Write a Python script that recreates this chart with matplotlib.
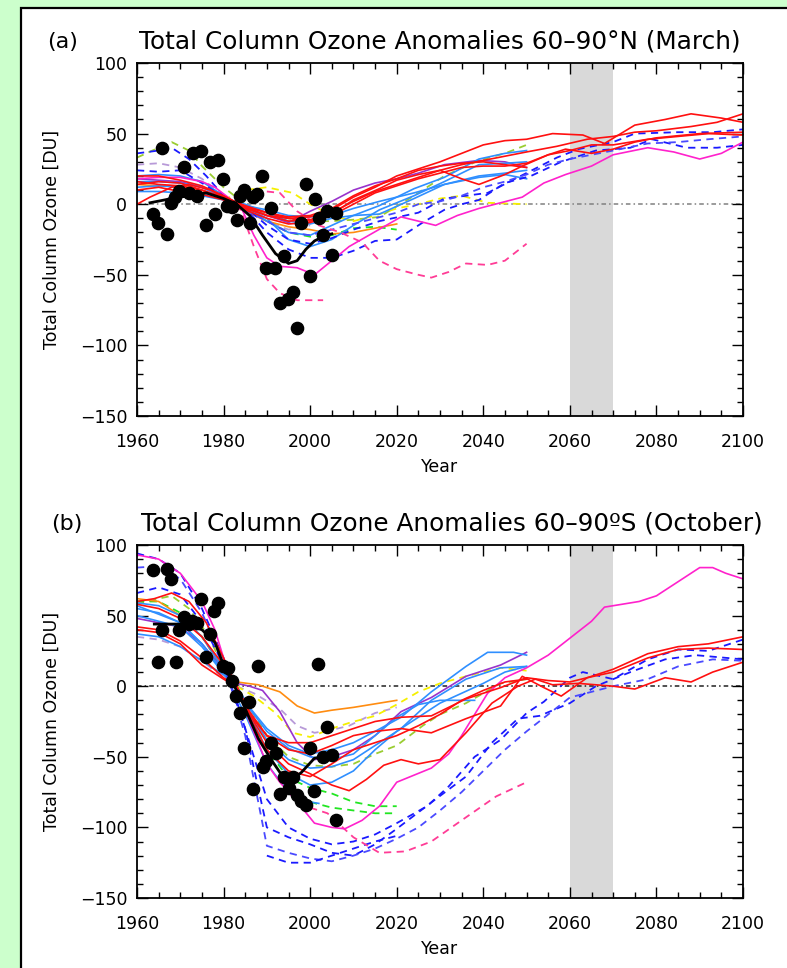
import matplotlib
matplotlib.use("Agg")
import matplotlib.pyplot as plt
from matplotlib.patches import Rectangle
from matplotlib.ticker import MultipleLocator

# ── Panel (a): 60-90N March, (year, anomaly DU) ───────────────────────────────
A_OBS_YEARS = [1963.8, 1964.9, 1965.7, 1966.9, 1967.9, 1968.8, 1969.8, 1970.9, 1971.9,
               1972.9, 1973.8, 1974.9, 1975.9, 1976.9, 1978.0, 1978.8, 1979.9, 1980.7,
               1981.9, 1983.0, 1983.8, 1984.7, 1986.1, 1986.7, 1987.8, 1988.9, 1989.7,
               1990.9, 1991.9, 1993.0, 1994.0, 1994.9, 1996.0, 1996.9, 1998.0, 1999.0,
               1999.9, 2001.1, 2002.1, 2003.0, 2003.9, 2005.1, 2006.0]
A_OBS_VALS = [-7, -13, 40, -21, 1, 5, 9, 26, 8, 36, 6, 38, -15, 30, -7, 31, 18, -1,
              -2, -11, 6, 10, -13, 5, 7, 20, -45, -3, -45, -70, -37, -67, -62, -88,
              -13, 14, -51, 4, -10, -22, -5, -36, -6]
A_OBS_FIT = [(1963, 1), (1968, 4), (1972, 6), (1976, 8), (1980, 4), (1983, 0), (1986, -8),
             (1989, -22), (1992, -35), (1995, -42), (1997, -40), (1999, -32), (2001, -26),
             (2003, -23), (2005, -21)]

A_RED1 = [(1960, 20), (1965, 20), (1970, 17), (1975, 13), (1980, 6), (1985, -2), (1990, -8),
          (1995, -10), (2000, -9), (2005, -4), (2010, 5), (2015, 12), (2020, 20), (2025, 25),
          (2030, 30), (2035, 36), (2040, 42), (2045, 45), (2050, 46), (2056, 50), (2063, 49),
          (2068, 43), (2075, 56), (2082, 60), (2088, 64), (2095, 61), (2100, 58)]
A_RED2 = [(1960, 14), (1965, 16), (1970, 15), (1975, 10), (1980, 4), (1985, -3), (1990, -8),
          (1995, -12), (2000, -11), (2005, -6), (2010, 2), (2015, 9), (2020, 14), (2025, 19),
          (2030, 24), (2035, 28), (2040, 31), (2045, 34), (2050, 37), (2057, 41), (2064, 46),
          (2070, 48), (2075, 51), (2080, 52), (2088, 55), (2094, 58), (2100, 64)]
A_RED3 = [(1960, 0), (1963, 5), (1968, 12), (1972, 14), (1977, 10), (1980, 5), (1985, -2),
          (1990, -6), (1995, -10), (2000, -12), (2005, -7), (2010, 3), (2016, 11), (2020, 17),
          (2025, 21), (2030, 24), (2035, 18), (2039, 14), (2045, 21), (2049, 27), (2055, 35),
          (2059, 39), (2065, 36), (2070, 39), (2075, 44), (2080, 47), (2090, 50), (2100, 51)]
A_RED4 = [(1960, 10), (1965, 12), (1970, 9), (1975, 7), (1980, 3), (1985, -4), (1990, -10),
          (1995, -14), (2000, -13), (2005, -8), (2010, 0), (2015, 8), (2020, 13), (2025, 18),
          (2030, 22), (2035, 26), (2040, 27), (2045, 27), (2050, 29), (2055, 35), (2060, 38),
          (2065, 42), (2070, 42), (2078, 46), (2085, 48), (2092, 50), (2100, 49)]
A_RED5 = [(1960, 16), (1965, 14), (1970, 13), (1975, 10), (1980, 5), (1985, -1), (1990, -6),
          (1995, -9), (2000, -8), (2005, -3), (2010, 6), (2015, 13), (2020, 18), (2025, 24),
          (2030, 27), (2035, 29), (2040, 30), (2045, 28), (2050, 26)]
A_MAG = [(1960, 18), (1965, 19), (1970, 19), (1975, 16), (1978, 12), (1981, 5), (1984, -2),
         (1987, -22), (1990, -38), (1993, -44), (1997, -45), (2001, -50), (2005, -40),
         (2009, -30), (2013, -23), (2017, -16), (2021, -9), (2025, -12), (2029, -15),
         (2034, -8), (2039, -3), (2044, 1), (2049, 5), (2054, 15), (2059, 21), (2065, 27),
         (2070, 35), (2078, 40), (2084, 37), (2090, 32), (2095, 36), (2100, 44)]
A_PINK1 = [(1980, 2), (1984, -4), (1987, -30), (1990, -53), (1993, -63), (1997, -68), (2003, -68)]
A_PINK2 = [(1990, 9), (1993, 8), (1997, -5), (2002, -15), (2007, -20), (2012, -27), (2016, -40),
           (2020, -46), (2025, -50), (2028, -52), (2032, -48), (2036, -42), (2041, -43),
           (2045, -40), (2050, -28)]
A_BLUE1 = [(1960, 36), (1965, 38), (1968, 40), (1972, 32), (1976, 20), (1980, 6), (1985, -3),
           (1990, -20), (1995, -32), (2000, -38), (2005, -38), (2010, -33), (2015, -26),
           (2020, -25), (2026, -13), (2031, -4), (2035, 0), (2039, 3), (2045, 15), (2051, 20),
           (2058, 30), (2066, 38), (2074, 40), (2079, 46), (2087, 40), (2094, 40), (2100, 42)]
A_BLUE2 = [(1960, 24), (1965, 23), (1970, 24), (1975, 15), (1980, 5), (1985, -2), (1990, -15),
           (1995, -25), (2000, -28), (2005, -24), (2010, -18), (2016, -12), (2025, -6),
           (2031, 4), (2041, 8), (2048, 19), (2057, 33), (2062, 39), (2070, 44), (2075, 50),
           (2085, 51), (2093, 51), (2100, 53)]
A_BLUE3 = [(1985, -4), (1990, -12), (1995, -20), (2000, -22), (2005, -18), (2010, -14),
           (2015, -10), (2020, -6), (2025, 0), (2030, 2), (2035, 6), (2040, 12), (2045, 16),
           (2050, 21), (2055, 28), (2060, 32), (2065, 35), (2070, 38), (2078, 43), (2085, 44),
           (2092, 46), (2100, 48)]
A_LB1 = [(1960, 20), (1965, 21), (1970, 20), (1975, 16), (1980, 6), (1985, -3), (1990, -12),
         (1995, -20), (2000, -22), (2005, -15), (2010, -8), (2016, -1), (2024, 11), (2031, 19),
         (2039, 32), (2045, 36), (2050, 38)]
A_LB2 = [(1960, 12), (1965, 13), (1970, 12), (1975, 8), (1980, 4), (1985, 0), (1990, -6),
         (1995, -12), (2000, -14), (2005, -10), (2010, -8), (2016, -7), (2024, 4), (2031, 14),
         (2039, 19), (2045, 21), (2050, 18)]
A_LB3 = [(1960, 16), (1965, 16), (1970, 15), (1975, 12), (1980, 5), (1985, -2), (1990, -10),
         (1995, -25), (2000, -30), (2005, -25), (2010, -15), (2016, -4), (2024, 6), (2031, 16),
         (2039, 28), (2045, 29), (2050, 30)]
A_LB4 = [(1960, 9), (1965, 9), (1970, 8), (1975, 6), (1980, 3), (1985, -1), (1990, -4),
         (1995, -8), (2000, -9), (2005, -8), (2010, -3), (2016, 2), (2024, 8), (2031, 14),
         (2039, 20), (2045, 22), (2050, 24)]
A_PURPLE = [(1960, 18), (1965, 17), (1970, 16), (1975, 12), (1980, 5), (1985, -2), (1990, -8),
            (1995, -13), (2000, -5), (2005, 2), (2010, 10), (2015, 15), (2020, 18), (2025, 22),
            (2031, 28), (2039, 31), (2045, 30), (2050, 26)]
A_ORANGE = [(1960, 14), (1965, 13), (1970, 13), (1975, 10), (1980, 4), (1985, -5), (1990, -12),
            (1995, -16), (2000, -18), (2005, -21), (2010, -20), (2015, -17), (2020, -14)]
A_YELLOW = [(1980, 3), (1985, 10), (1990, 12), (1996, 8), (2000, 0), (2005, -8), (2010, -12),
            (2015, -8), (2020, -3), (2025, 0), (2030, 4), (2035, 6), (2041, 1), (2050, 0)]
A_YGREEN = [(1960, 33), (1965, 40), (1968, 44), (1972, 38), (1975, 27), (1980, 12), (1985, 0),
            (1990, -8), (1995, -10), (2000, -12), (2005, -12), (2010, -11), (2016, -9),
            (2024, 6), (2031, 20), (2039, 31), (2045, 36), (2050, 42)]
A_GREEN = [(1980, 3), (1985, -3), (1990, -12), (1995, -20), (2000, -23), (2005, -22),
           (2010, -17), (2015, -16), (2020, -18)]
A_LAV = [(1960, 28), (1965, 29), (1970, 26), (1975, 18), (1980, 6), (1985, -4), (1990, -12),
         (1995, -18), (2000, -15)]

# ── Panel (b): 60-90S October ─────────────────────────────────────────────────
B_OBS_YEARS = [1963.8, 1964.8, 1965.7, 1966.9, 1967.8, 1968.9, 1969.8, 1970.9, 1971.9,
               1972.8, 1973.8, 1974.9, 1975.9, 1976.9, 1977.8, 1978.8, 1979.9, 1981.0,
               1981.9, 1982.9, 1983.8, 1984.7, 1985.9, 1986.9, 1987.9, 1989.0, 1989.9,
               1990.9, 1992.0, 1993.0, 1993.9, 1995.1, 1996.1, 1997.0, 1998.0, 1999.0,
               1999.9, 2000.9, 2001.9, 2002.9, 2004.0, 2005.1, 2006.0]
B_OBS_VALS = [82, 17, 40, 83, 76, 17, 40, 49, 44, 46, 45, 62, 21, 37, 53, 59, 14, 13,
              4, -7, -19, -44, -11, -73, 14, -57, -53, -40, -47, -76, -64, -72, -64, -77,
              -81, -84, -44, -74, 16, -50, -29, -49, -95]
B_OBS_FIT = [(1964, 44), (1968, 44), (1971, 44), (1975, 40), (1978, 31), (1980, 15), (1982, 3),
             (1984, -9), (1986, -23), (1988, -37), (1991, -52), (1993, -61), (1996, -66),
             (1998, -61), (2001, -51), (2005, -49)]

B_RED1 = [(1960, 60), (1964, 62), (1968, 66), (1972, 60), (1976, 45), (1980, 20), (1983, 0),
          (1986, -20), (1990, -35), (1995, -40), (2000, -40), (2005, -35), (2010, -30),
          (2015, -25), (2021, -22), (2028, -21), (2036, -9), (2044, -1), (2050, 6), (2055, 4),
          (2060, 3), (2064, 6), (2070, 10), (2078, 20), (2085, 26), (2092, 27), (2100, 26)]
B_RED2 = [(1960, 58), (1965, 55), (1970, 48), (1975, 35), (1980, 15), (1983, 0), (1986, -18),
          (1990, -35), (1995, -45), (2000, -48), (2005, -42), (2010, -35), (2015, -32),
          (2021, -30), (2028, -33), (2036, -23), (2044, -14), (2049, 7), (2054, -1), (2058, -7),
          (2064, 6), (2070, 12), (2078, 23), (2085, 28), (2092, 30), (2100, 35)]
B_RED3 = [(1960, 40), (1965, 38), (1970, 30), (1975, 15), (1980, 5), (1983, 0), (1986, -20),
          (1990, -40), (1995, -55), (2000, -62), (2005, -70), (2009, -74), (2013, -66),
          (2017, -56), (2021, -52), (2025, -55), (2030, -52), (2036, -33), (2042, -12),
          (2048, 0), (2052, 5), (2056, 1), (2062, 2), (2070, 0), (2075, -2), (2082, 6),
          (2088, 3), (2093, 10), (2100, 17)]
B_RED4 = [(1960, 42), (1965, 40), (1970, 32), (1975, 20), (1980, 6), (1983, 0), (1986, -22),
          (1990, -45), (1995, -60), (2000, -64), (2005, -55), (2010, -45), (2015, -40),
          (2020, -35), (2025, -28), (2030, -20), (2035, -10), (2040, -3), (2045, 3), (2050, 5)]
B_MAG = [(1960, 93), (1965, 90), (1970, 80), (1975, 60), (1978, 40), (1981, 10), (1983, 0),
         (1986, -25), (1990, -55), (1993, -68), (1997, -82), (2001, -97), (2005, -100),
         (2008, -101), (2012, -95), (2016, -85), (2020, -68), (2024, -63), (2028, -58),
         (2032, -48), (2035, -35), (2038, -20), (2041, -5), (2045, 6), (2050, 13), (2055, 22),
         (2060, 34), (2065, 46), (2068, 56), (2072, 58), (2076, 60), (2080, 64), (2085, 74),
         (2090, 84), (2093, 84), (2096, 80), (2100, 76)]
B_PINK = [(2000, -86), (2004, -90), (2010, -107), (2016, -118), (2022, -117), (2028, -110),
          (2035, -95), (2043, -78), (2050, -68)]
B_BLUE1 = [(1960, 94), (1965, 90), (1970, 80), (1975, 55), (1980, 20), (1985, -30), (1990, -80),
           (1995, -100), (2000, -108), (2005, -112), (2010, -110), (2015, -105), (2020, -97),
           (2027, -85), (2032, -71), (2038, -50), (2044, -38), (2050, -19), (2054, -11),
           (2060, 6), (2063, 10), (2070, 5), (2078, 19), (2085, 26), (2092, 25), (2100, 33)]
B_BLUE2 = [(1960, 66), (1965, 70), (1970, 65), (1975, 45), (1980, 15), (1985, -30), (1990, -100),
           (1995, -107), (2000, -112), (2005, -118), (2010, -120), (2015, -112), (2020, -101),
           (2029, -80), (2036, -64), (2042, -40), (2048, -23), (2053, -21), (2060, -12),
           (2066, 0), (2074, 10), (2082, 19), (2089, 22), (2100, 19)]
B_BLUE3 = [(1960, 84), (1965, 85), (1970, 76), (1975, 52), (1980, 18), (1985, -35), (1990, -113),
           (1995, -118), (2000, -122), (2005, -124), (2010, -120), (2015, -115), (2020, -108),
           (2025, -100), (2030, -88), (2035, -75), (2040, -60), (2045, -45), (2050, -32),
           (2055, -20), (2060, -8), (2070, 0), (2078, 5), (2085, 14), (2093, 19), (2100, 18)]
B_BLUE4 = [(1990, -120), (1995, -125), (2000, -125), (2005, -120), (2010, -115), (2015, -110),
           (2020, -106)]
B_LB1 = [(1960, 59), (1965, 57), (1970, 50), (1975, 35), (1980, 12), (1983, 0), (1986, -15),
         (1990, -30), (1995, -42), (2000, -48), (2005, -45), (2010, -40), (2015, -32),
         (2021, -22), (2028, -4), (2036, 14), (2041, 24), (2047, 24), (2050, 22)]
B_LB2 = [(1960, 37), (1965, 35), (1970, 28), (1975, 18), (1980, 8), (1983, 0), (1986, -18),
         (1990, -38), (1995, -52), (2000, -58), (2005, -57), (2010, -52), (2015, -42),
         (2021, -30), (2028, -10), (2036, 5), (2044, 13), (2050, 14)]
B_LB3 = [(1960, 55), (1965, 52), (1970, 45), (1975, 30), (1980, 10), (1983, 0), (1986, -20),
         (1990, -45), (1995, -62), (2000, -70), (2005, -68), (2010, -60), (2015, -45),
         (2020, -32), (2025, -22), (2030, -12), (2035, -5), (2040, 2), (2045, 10), (2050, 14)]
B_LB4 = [(1960, 57), (1970, 45), (1975, 30), (1980, 10), (1985, -20), (1990, -55), (1995, -75),
         (2000, -82), (2002, -83)]
B_LB5 = [(1960, 50), (1970, 42), (1975, 28), (1980, 9), (1983, 0), (1986, -16), (1990, -32),
         (1995, -44), (2000, -50), (2005, -52), (2010, -48), (2015, -35), (2020, -22),
         (2025, -13), (2030, -10), (2038, -10)]
B_PURPLE = [(1960, 48), (1970, 42), (1975, 30), (1980, 12), (1983, 2), (1986, 0), (1989, -3),
            (1993, -18), (1997, -40), (2001, -52), (2005, -50), (2010, -45), (2015, -35),
            (2021, -18), (2028, -8), (2036, 7), (2044, 15), (2050, 24)]
B_ORANGE = [(1960, 62), (1965, 60), (1970, 50), (1975, 35), (1980, 12), (1983, 3), (1988, 1),
            (1993, -4), (1997, -14), (2001, -19), (2005, -17), (2010, -15), (2014, -13),
            (2020, -10)]
B_YELLOW = [(1983, 0), (1987, -7), (1992, -19), (1996, -33), (2000, -36), (2005, -30),
            (2009, -26), (2015, -21), (2020, -13), (2025, -4), (2030, 2), (2036, 7),
            (2044, 13), (2050, 11)]
B_YGREEN = [(1960, 58), (1965, 62), (1968, 64), (1972, 55), (1976, 38), (1980, 14), (1983, 0),
            (1986, -15), (1990, -35), (1995, -50), (2000, -56), (2005, -57), (2010, -55),
            (2015, -48), (2020, -42), (2026, -28), (2030, -20), (2036, -12), (2044, 2),
            (2050, 5)]
B_GREEN1 = [(1960, 60), (1965, 60), (1970, 52), (1975, 35), (1980, 12), (1983, 0), (1986, -20),
            (1990, -45), (1995, -65), (2000, -72), (2005, -76), (2010, -82), (2015, -85),
            (2020, -85)]
B_GREEN2 = [(2000, -82), (2005, -86), (2010, -88), (2015, -90), (2020, -90)]
B_LAV = [(1960, 35), (1965, 33), (1970, 28), (1975, 18), (1980, 6), (1983, 0), (1987, -5),
         (1993, -16), (1997, -28), (2001, -33), (2005, -31), (2009, -28), (2015, -19),
         (2020, -15)]

# ── Colours ───────────────────────────────────────────────────────────────────
RED, MAG, PINK = '#ff1010', '#ff22cc', '#ff3c96'
BLUE, LBLUE, PURPLE = '#1a1aff', '#2f8fff', '#9933cc'
ORANGE, YELLOW, YGREEN = '#ff8c10', '#f5f000', '#9acd32'
GREEN, LAV = '#22e622', '#b89ad8'

PANEL_A = [
    (A_LAV, LAV, True), (A_YGREEN, YGREEN, True), (A_GREEN, GREEN, True),
    (A_YELLOW, YELLOW, True), (A_ORANGE, ORANGE, False), (A_PURPLE, PURPLE, False),
    (A_LB1, LBLUE, False), (A_LB2, LBLUE, False), (A_LB3, LBLUE, False), (A_LB4, LBLUE, False),
    (A_BLUE1, BLUE, True), (A_BLUE2, BLUE, True), (A_BLUE3, '#4a4aff', True),
    (A_PINK1, PINK, True), (A_PINK2, PINK, True), (A_MAG, MAG, False),
    (A_RED1, RED, False), (A_RED2, RED, False), (A_RED3, RED, False), (A_RED4, RED, False),
    (A_RED5, RED, False),
]
PANEL_B = [
    (B_LAV, LAV, True), (B_YGREEN, YGREEN, True), (B_GREEN1, GREEN, True), (B_GREEN2, GREEN, True),
    (B_YELLOW, YELLOW, True), (B_ORANGE, ORANGE, False), (B_PURPLE, PURPLE, False),
    (B_LB1, LBLUE, False), (B_LB2, LBLUE, False), (B_LB3, LBLUE, False), (B_LB4, LBLUE, False),
    (B_LB5, LBLUE, False),
    (B_BLUE1, BLUE, True), (B_BLUE2, BLUE, True), (B_BLUE3, '#4a4aff', True), (B_BLUE4, BLUE, True),
    (B_PINK, PINK, True), (B_MAG, MAG, False),
    (B_RED1, RED, False), (B_RED2, RED, False), (B_RED3, RED, False), (B_RED4, RED, False),
]

W, H = 787, 968
fig = plt.figure(figsize=(W / 100, H / 100), dpi=100)
fig.patch.set_facecolor('#ccffcc')
fig.patches.append(Rectangle((21 / W, -0.02), 1.1, 1 - 8 / H + 0.02, transform=fig.transFigure,
                             facecolor='white', edgecolor='black', lw=1.6, zorder=-10))

ax_a = fig.add_axes([137 / W, 1 - 416 / H, 606 / W, 353 / H])
ax_b = fig.add_axes([137 / W, 1 - 898 / H, 606 / W, 353 / H])


def draw_panel(ax, curves, obs_x, obs_y, fit, zero_col, letter, title, lx, tx):
    ax.axvspan(2060, 2070, color='#d9d9d9', lw=0, zorder=0)
    ax.axhline(0, color=zero_col, lw=1.1, ls=(0, (3, 2, 1, 2)), zorder=1)
    for pts, col, dashed in curves:
        yrs, vals = zip(*pts)
        if dashed:
            ax.plot(yrs, vals, color=col, lw=1.3, ls=(0, (4, 3)), zorder=2)
        else:
            ax.plot(yrs, vals, color=col, lw=1.2, zorder=2)
    fy, fv = zip(*fit)
    ax.plot(fy, fv, color='black', lw=2.0, zorder=3)
    ax.plot(obs_x, obs_y, 'o', color='black', ms=8.8, zorder=4)

    ax.set_xlim(1960, 2100)
    ax.set_ylim(-150, 100)
    ax.xaxis.set_major_locator(MultipleLocator(20))
    ax.xaxis.set_minor_locator(MultipleLocator(5))
    ax.yaxis.set_major_locator(MultipleLocator(50))
    ax.yaxis.set_minor_locator(MultipleLocator(10))
    ax.tick_params(which='both', direction='in', top=True, right=True, labelsize=12.5)
    ax.tick_params(which='major', length=8, width=1.0, pad=7)
    ax.tick_params(axis='x', which='major', pad=12)
    ax.tick_params(which='minor', length=4, width=1.0)
    for s in ax.spines.values():
        s.set_linewidth(1.3)
    ax.set_xlabel('Year', fontsize=12.5, labelpad=5)
    ax.set_ylabel('Total Column Ozone [DU]', fontsize=12.5, labelpad=14)
    ax.text(lx, 1.06, letter, transform=ax.transAxes, fontsize=16, ha='left', va='center')
    ax.text(tx, 1.06, title, transform=ax.transAxes, fontsize=17.8, ha='center', va='center')


draw_panel(ax_a, PANEL_A, A_OBS_YEARS, A_OBS_VALS, A_OBS_FIT, '#808080', '(a)',
           'Total Column Ozone Anomalies 60–90°N (March)', -0.148, 0.5)
draw_panel(ax_b, PANEL_B, B_OBS_YEARS, B_OBS_VALS, B_OBS_FIT, '#202020', '(b)',
           'Total Column Ozone Anomalies 60–90ºS (October)', -0.142, 0.52)

fig.savefig('out.png', dpi=100)
